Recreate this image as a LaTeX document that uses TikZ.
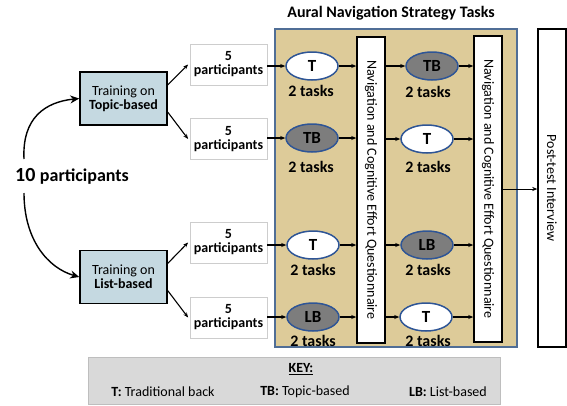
\documentclass[tikz,border=0pt]{standalone}
\usepackage{fontspec}
\usepackage{graphicx}
\setmainfont{Carlito}
\usetikzlibrary{shapes.geometric,arrows.meta,calc}
\definecolor{tan}{RGB}{221,203,153}
\definecolor{tanborder}{RGB}{80,110,150}
\definecolor{ellborder}{RGB}{46,85,150}
\definecolor{trainfill}{RGB}{197,217,225}
\definecolor{keyfill}{RGB}{217,217,217}
\definecolor{keyborder}{RGB}{190,190,190}
\definecolor{ellgray}{RGB}{125,125,125}
\definecolor{pborder}{RGB}{205,205,205}
\newcommand{\fs}[1]{\fontsize{#1}{#1}\selectfont}
\tikzset{
  trainbox/.style={draw=black, line width=1.5pt, fill=trainfill, minimum width=87pt, minimum height=53pt, inner sep=0pt, align=center, font=\fs{14}},
  partbox/.style={draw=pborder, line width=0.8pt, fill=white, minimum width=77pt, minimum height=41pt, inner sep=0pt, align=center, font=\fs{14}\bfseries},
  ellw/.style={ellipse, draw=ellborder, line width=1.5pt, fill=white, minimum width=52pt, minimum height=28pt, inner sep=0pt, font=\fs{17}\bfseries},
  ellg/.style={ellw, fill=ellgray},
  tasks/.style={font=\fs{16}\bfseries, inner sep=0pt},
  qbox/.style={draw=black, line width=1.5pt, fill=white, minimum width=28pt, minimum height=306pt, inner sep=0pt, font=\fs{14}},
  arr/.style={-{Stealth[length=5pt,width=4pt]}, line width=1.1pt, black},
  bigarr/.style={-{Stealth[length=9pt,width=8pt]}, line width=1.4pt, black},
}
\begin{document}
\begin{tikzpicture}[x=1pt,y=-1pt]
\useasboundingbox (0,0) rectangle (567,405);
% title
\node[font=\fs{16}\bfseries, inner sep=0pt] (title) at (391,13) {Aural Navigation Strategy Tasks};
% tan box
\node[draw=tanborder, line width=1.5pt, fill=tan, minimum width=242pt, minimum height=318pt, inner sep=0pt] (tanbox) at (396,188) {};
% post-test
\node[qbox, minimum height=318pt] (post) at (552,188) {\rotatebox{-90}{Post-test Interview}};
% questionnaires
\node[qbox] (q1) at (371,190) {\rotatebox{-90}{Navigation and Cognitive Effort Questionnaire}};
\node[qbox] (q2) at (488,189) {\rotatebox{-90}{Navigation and Cognitive Effort Questionnaire}};
% training
\node[trainbox] (t1) at (123.5,98.5) {Training on\\\textbf{Topic-based}};
\node[trainbox] (t2) at (123.5,277) {Training on\\\textbf{List-based}};
% participants
\node[partbox] (p1) at (228.5,64.5) {5\\participants};
\node[partbox] (p2) at (228.5,139) {5\\participants};
\node[partbox] (p3) at (228.5,242.5) {5\\participants};
\node[partbox] (p4) at (228.5,317.5) {5\\participants};
% ellipses
\node[ellw] (e11) at (312,66) {T};
\node[ellg] (e12) at (432,66) {TB};
\node[ellg] (e21) at (312,138) {TB};
\node[ellw] (e22) at (427,139) {T};
\node[ellw] (e31) at (313,245) {T};
\node[ellg] (e32) at (427,245) {LB};
\node[ellg] (e41) at (313,317) {LB};
\node[ellw] (e42) at (426,317) {T};
% tasks labels
\node[tasks] (k11) at (311,91) {2 tasks};
\node[tasks] (k12) at (428,92) {2 tasks};
\node[tasks] (k21) at (311,167) {2 tasks};
\node[tasks] (k22) at (428,167) {2 tasks};
\node[tasks] (k31) at (313,270) {2 tasks};
\node[tasks] (k32) at (428,270) {2 tasks};
\node[tasks] (k41) at (313,341) {2 tasks};
\node[tasks] (k42) at (428,341) {2 tasks};
% 10 participants
\node[inner sep=0pt, font=\bfseries] (ten) at (72,176) {\fs{20}10 \fs{18}participants};
\coordinate (c1) at (24,159);
\coordinate (c2) at (24,193);
\draw[bigarr] (c1) .. controls (22,118) and (45,102) .. (t1.west);
\draw[bigarr] (c2) .. controls (24,240) and (48,268) .. (t2.west);
% training to participants
\draw[arr] ($(t1.east)!0.5!(t1.north east)$) -- ([xshift=-1.5pt]p1.west);
\draw[arr] ($(t1.east)!0.5!(t1.south east)$) -- ([xshift=-1.5pt]p2.west);
\draw[arr] ($(t2.east)!0.5!(t2.north east)$) -- ([xshift=-1.5pt]p3.west);
\draw[arr] ($(t2.east)!0.5!(t2.south east)$) -- ([xshift=-1.5pt]p4.west);
% participants to ellipses
\foreach \p/\e in {p1/e11,p2/e21,p3/e31,p4/e41}{
  \draw[arr] (\p.east |- \e.west) -- (\e.west);
}
% ellipses to q1
\foreach \e in {e11,e21,e31,e41}{
  \draw[arr] (\e.east) -- (\e.east -| q1.west);
}
% q1 to ellipses col2
\foreach \e in {e12,e22,e32,e42}{
  \draw[arr] (\e.west -| q1.east) -- (\e.west);
  \draw[arr] (\e.east) -- (\e.east -| q2.west);
}
% q2 to post
\draw[-{Stealth[length=5pt,width=4pt]}, line width=0.6pt] (q2.east) -- (q2.east -| post.west);
% key
\node[draw=keyborder, line width=0.8pt, fill=keyfill, minimum width=412pt, minimum height=47pt, inner sep=0pt] (key) at (294,380.5) {};
\node[font=\fs{14}\bfseries, inner sep=0pt] (keyt) at (301,369) {\underline{KEY:}};
\node[font=\fs{14}, inner sep=0pt] (kt) at (163,392) {\textbf{T:} Traditional back};
\node[font=\fs{14}, inner sep=0pt] (ktb) at (305,392) {\textbf{TB:} Topic-based};
\node[font=\fs{14}, inner sep=0pt] (klb) at (448,392) {\textbf{LB:} List-based};
\end{tikzpicture}
\end{document}
